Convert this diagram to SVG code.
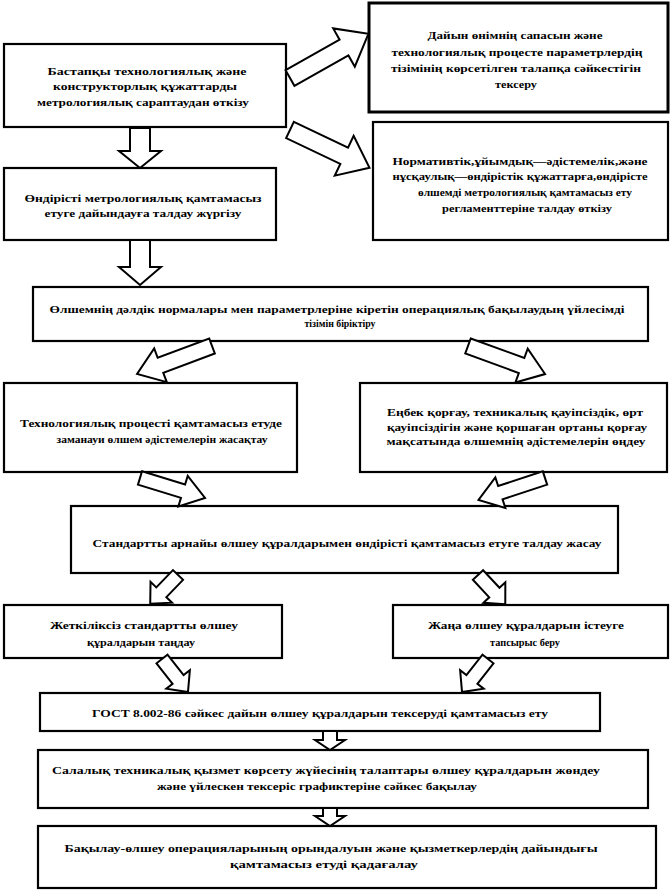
<svg xmlns="http://www.w3.org/2000/svg" width="671" height="890" viewBox="0 0 671 890">
<style>
.b{fill:#fff;stroke:#000;stroke-width:2.2}
.a{fill:#fff;stroke:#000;stroke-width:2;stroke-linejoin:miter}
.t{font-family:"Liberation Serif","Times New Roman",serif;font-weight:bold;font-size:10.5px;text-anchor:middle;fill:#000}
</style>
<rect width="671" height="890" fill="#fff"/>
<g id="n1"><rect class="b" x="4" y="44" width="282" height="83"/>
<text class="t" x="147" y="75" textLength="199" lengthAdjust="spacingAndGlyphs">Бастапқы технологиялық және</text>
<text class="t" x="145" y="90" textLength="184" lengthAdjust="spacingAndGlyphs">конструкторлық құжаттарды</text>
<text class="t" x="143" y="106" textLength="212" lengthAdjust="spacingAndGlyphs">метрологиялық сараптаудан өткізу</text></g>
<g id="n2"><rect class="b" x="369" y="3" width="299" height="109" style="stroke-width:3"/>
<text class="t" x="515" y="39" textLength="175" lengthAdjust="spacingAndGlyphs">Дайын өнімнің сапасын және</text>
<text class="t" x="517" y="56" textLength="251" lengthAdjust="spacingAndGlyphs">технологиялық процесте параметрлердің</text>
<text class="t" x="516" y="72" textLength="250" lengthAdjust="spacingAndGlyphs">тізімінің көрсетілген талапқа сәйкестігін</text>
<text class="t" x="516" y="88" textLength="42" lengthAdjust="spacingAndGlyphs">тексеру</text></g>
<g id="n3"><rect class="b" x="373" y="122" width="295" height="118"/>
<text class="t" x="520" y="165" textLength="255" lengthAdjust="spacingAndGlyphs">Нормативтік,ұйымдық—әдістемелік,және</text>
<text class="t" x="520" y="180" textLength="255" lengthAdjust="spacingAndGlyphs">нұсқаулық—өндірістік құжаттарға,өндірісте</text>
<text class="t" x="525" y="196" textLength="214" lengthAdjust="spacingAndGlyphs">өлшемді метрологиялық қамтамасыз ету</text>
<text class="t" x="527" y="212" textLength="170" lengthAdjust="spacingAndGlyphs">регламенттеріне талдау өткізу</text></g>
<g id="n4"><rect class="b" x="4" y="168" width="272" height="72"/>
<text class="t" x="143" y="202" textLength="237" lengthAdjust="spacingAndGlyphs">Өндірісті метрологиялық қамтамасыз</text>
<text class="t" x="143" y="217" textLength="197" lengthAdjust="spacingAndGlyphs">етуге дайындауға талдау жүргізу</text></g>
<g id="n5"><rect class="b" x="33" y="287" width="615" height="54"/>
<text class="t" x="337" y="313" textLength="575" lengthAdjust="spacingAndGlyphs">Өлшемнің дәлдік нормалары мен параметрлеріне кіретін операциялық бақылаудың үйлесімді</text>
<text class="t" x="340" y="327" textLength="71" lengthAdjust="spacingAndGlyphs">тізімін біріктіру</text></g>
<g id="n6"><rect class="b" x="4" y="383" width="293" height="89"/>
<text class="t" x="151" y="427" textLength="262" lengthAdjust="spacingAndGlyphs">Технологиялық процесті қамтамасыз етуде</text>
<text class="t" x="162" y="443" textLength="211" lengthAdjust="spacingAndGlyphs">заманауи өлшем әдістемелерін жасақтау</text></g>
<g id="n7"><rect class="b" x="360" y="383" width="307" height="89"/>
<text class="t" x="515" y="416" textLength="256" lengthAdjust="spacingAndGlyphs">Еңбек қорғау, техникалық қауіпсіздік, өрт</text>
<text class="t" x="517" y="431" textLength="260" lengthAdjust="spacingAndGlyphs">қауіпсіздігін және қоршаған ортаны қорғау</text>
<text class="t" x="516" y="445" textLength="259" lengthAdjust="spacingAndGlyphs">мақсатында өлшемнің әдістемелерін өңдеу</text></g>
<g id="n8"><rect class="b" x="71" y="506" width="547" height="67"/>
<text class="t" x="347" y="547" textLength="509" lengthAdjust="spacingAndGlyphs">Стандартты арнайы өлшеу құралдарымен өндірісті қамтамасыз етуге талдау жасау</text></g>
<g id="n9"><rect class="b" x="4" y="605" width="278" height="53"/>
<text class="t" x="144" y="629" textLength="188" lengthAdjust="spacingAndGlyphs">Жеткіліксіз стандартты өлшеу</text>
<text class="t" x="141" y="646" textLength="108" lengthAdjust="spacingAndGlyphs">құралдарын таңдау</text></g>
<g id="n10"><rect class="b" x="393" y="605" width="275" height="53"/>
<text class="t" x="526" y="629" textLength="196" lengthAdjust="spacingAndGlyphs">Жаңа өлшеу құралдарын істеуге</text>
<text class="t" x="525" y="646" textLength="70" lengthAdjust="spacingAndGlyphs">тапсырыс беру</text></g>
<g id="n11"><rect class="b" x="40" y="693" width="560" height="38"/>
<text class="t" x="320" y="717" textLength="456" lengthAdjust="spacingAndGlyphs">ГОСТ 8.002-86 сәйкес дайын өлшеу құралдарын тексеруді қамтамасыз ету</text></g>
<g id="n12"><rect class="b" x="38" y="750" width="610" height="58"/>
<text class="t" x="326" y="774" textLength="548" lengthAdjust="spacingAndGlyphs">Салалық техникалық қызмет көрсету жүйесінің талаптары өлшеу құралдарын жөндеу</text>
<text class="t" x="317" y="790" textLength="320" lengthAdjust="spacingAndGlyphs">және үйлескен тексеріс графиктеріне сәйкес бақылау</text></g>
<g id="n13"><rect class="b" x="38" y="826" width="618" height="62"/>
<text class="t" x="331" y="852" textLength="533" lengthAdjust="spacingAndGlyphs">Бақылау-өлшеу операцияларының орындалуын және қызметкерлердің дайындығы</text>
<text class="t" x="324" y="868" textLength="188" lengthAdjust="spacingAndGlyphs">қамтамасыз етуді қадағалау</text></g>
<g id="connectors">
<polygon class="a" transform="translate(290,78) rotate(-29.4)" points="0,-9 62,-9 62,-22 90,0 62,22 62,9 0,9"/>
<polygon class="a" transform="translate(290,130) rotate(25.4)" points="0,-9 60,-9 60,-22 88,0 60,22 60,9 0,9"/>
<polygon class="a" transform="translate(140,128) rotate(90)" points="0,-10 23,-10 23,-21 40,0 23,21 23,10 0,10"/>
<polygon class="a" transform="translate(140,240) rotate(90)" points="0,-10 27,-10 27,-21 45,0 27,21 27,10 0,10"/>
<polygon class="a" transform="translate(212,346) rotate(159.5)" points="0,-8 55,-8 55,-18 80,0 55,18 55,8 0,8"/>
<polygon class="a" transform="translate(468,346) rotate(20)" points="0,-8 57,-8 57,-18 82,0 57,18 57,8 0,8"/>
<polygon class="a" transform="translate(140,478) rotate(17)" points="0,-7 45,-7 45,-16 68,0 45,16 45,7 0,7"/>
<polygon class="a" transform="translate(545,478) rotate(161.8)" points="0,-7 47,-7 47,-16 70,0 47,16 47,7 0,7"/>
<polygon class="a" transform="translate(178,575) rotate(134)" points="0,-7 24,-7 24,-15 40,0 24,15 24,7 0,7"/>
<polygon class="a" transform="translate(478,575) rotate(47)" points="0,-7 24,-7 24,-15 40,0 24,15 24,7 0,7"/>
<polygon class="a" transform="translate(162,659) rotate(51.8)" points="0,-7 26,-7 26,-15 42,0 26,15 26,7 0,7"/>
<polygon class="a" transform="translate(488,659) rotate(128.2)" points="0,-7 26,-7 26,-15 42,0 26,15 26,7 0,7"/>
<polygon class="a" transform="translate(330,731) rotate(90)" points="0,-7 9,-7 9,-15 19,0 9,15 9,7 0,7"/>
<polygon class="a" transform="translate(330,808) rotate(90)" points="0,-7 8,-7 8,-15 18,0 8,15 8,7 0,7"/>
</g>
</svg>
